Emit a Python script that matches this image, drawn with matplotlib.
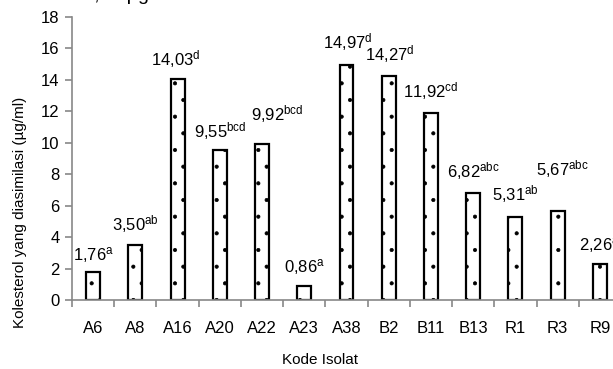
import matplotlib
matplotlib.use("Agg")
import matplotlib.pyplot as plt

plt.rcParams['font.family'] = ['Liberation Sans', 'DejaVu Sans']
plt.rcParams['mathtext.default'] = 'regular'
plt.rcParams['hatch.color'] = '#999999'
plt.rcParams['hatch.linewidth'] = 0.5

isolat = ["A6", "A8", "A16", "A20", "A22", "A23", "A38", "B2", "B11", "B13", "R1", "R3", "R9"]
nilai = [1.76, 3.50, 14.03, 9.55, 9.92, 0.86, 14.97, 14.27, 11.92, 6.82, 5.31, 5.67, 2.26]
notasi = ["a", "ab", "d", "bcd", "bcd", "a", "d", "d", "cd", "abc", "ab", "abc", "a"]

# where each value label sits (baseline height in y units, sideways shift in bars)
label_y = [2.54, 4.45, 14.95, 10.37, 11.45, 1.78, 16.03, 15.27, 12.91, 7.82, 6.36, 7.95, 3.18]
label_dx = [0, 0, -0.05, 0, 0.36, 0, 0.03, 0.02, 0, 0, 0, 0.12, 0]

fig = plt.figure(figsize=(6.13, 3.69), dpi=100)
ax = fig.add_axes([72/613, 1 - 300/369, 549/613, 283/369])

x = list(range(len(isolat)))
ax.bar(x, nilai, width=0.33, color='white', edgecolor='black', linewidth=1.6,
       hatch='.', zorder=2)

for xi, v, n, ly, dx in zip(x, nilai, notasi, label_y, label_dx):
    lab = f"{v:.2f}".replace(".", ",") + r"$^{" + n + "}$"
    ax.text(xi + dx, ly, lab, ha='center', va='baseline', fontsize=12)

ax.set_xlim(-0.5, 12.5)
ax.set_ylim(0, 18)
ax.set_yticks(range(0, 19, 2))
ax.set_xticks(x)
ax.set_xticklabels(isolat, fontsize=12)
ax.set_xticks([i - 0.5 for i in range(14)], minor=True)
ax.tick_params(axis='x', which='major', length=0, pad=15)
ax.tick_params(axis='x', which='minor', length=5, color='#888888', width=1.2)
ax.tick_params(axis='y', length=5, color='#888888', width=1.2, labelsize=12, pad=4)

for s in ['top', 'right']:
    ax.spines[s].set_visible(False)
for s in ['left', 'bottom']:
    ax.spines[s].set_color('#888888')
    ax.spines[s].set_linewidth(1.2)

fig.text(320/613, 1 - 360/369, "Kode Isolat", ha='center', va='center', fontsize=11)
fig.text(20/613, 1 - 212/369, "Kolesterol yang diasimilasi (µg/ml)", ha='center',
         va='center', rotation=90, fontsize=11)
# caption line above the chart, cut off at the top edge as in the source
fig.text(8/613, 1 - 0.5/369, "sebesar 1,50 µg", ha='left', va='baseline',
         fontsize=14)

fig.savefig("out.png", dpi=100)
